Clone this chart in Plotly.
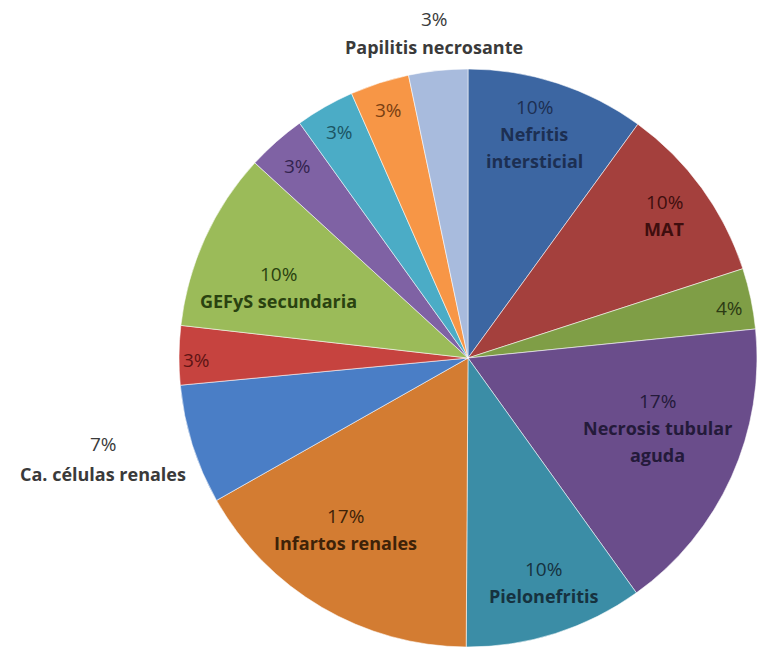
import math
import plotly.graph_objects as go

# ---- data ----
categories = ["Nefritis intersticial", "MAT", "Otra", "Necrosis tubular aguda", "Pielonefritis",
              "Infartos renales", "Ca. células renales", "Otra 2", "GEFyS secundaria",
              "Otra 3", "Otra 4", "Otra 5", "Papilitis necrosante"]
values = [10.0, 10.0, 3.4, 16.7, 10.0, 16.7, 6.7, 3.3, 10.0, 3.3, 3.3, 3.3, 3.3]
pct_labels = ["10%", "10%", "4%", "17%", "10%", "17%", "7%", "3%", "10%", "3%", "3%", "3%", "3%"]
name_lines = [["Nefritis", "intersticial"], ["MAT"], [], ["Necrosis tubular", "aguda"],
              ["Pielonefritis"], ["Infartos renales"], ["Ca. células renales"], [],
              ["GEFyS secundaria"], [], [], [], ["Papilitis necrosante"]]

# ---- style ----
colors = ["#3C66A2", "#A4403D", "#7F9E46", "#6A4D8B", "#3B8DA6", "#D37C32", "#4A7EC6",
          "#C6433F", "#9BBB59", "#7F62A4", "#4BACC6", "#F79646", "#A8BBDD"]
text_colors = ["#1C2F52", "#3E0E0E", "#2C3A14", "#241A3A", "#16323F", "#3E2208", "#3A3A3A",
               "#5E1414", "#2A4210", "#33244F", "#1B5563", "#7A3F12", "#3A3A3A"]
radial_frac = [0.81, 0.84, 0.92, 0.70, 0.82, 0.73, 1.31, 0.94, 0.70, 0.89, 0.90, 0.90, 1.13]
angle_shift = [-1.5, 0, 1, -4, -1, 5, 2, -1, -4, 0, 0, 0, 0]  # degrees
line_gap = [27, 27, 27, 27, 27, 27, 30, 27, 27, 27, 27, 27, 28]

W, H = 757, 652
cx, cy, R = 468, 358, 289  # pixel centre (from top) and radius
font_family = "'Open Sans', sans-serif"

fig = go.Figure(go.Pie(
    labels=categories, values=values, sort=False, direction="clockwise", rotation=0,
    marker=dict(colors=colors, line=dict(color="rgba(255,255,255,0.55)", width=1)),
    textinfo="none", hoverinfo="label+percent", showlegend=False,
    domain=dict(x=[(cx - R) / W, (cx + R) / W], y=[(H - cy - R) / H, (H - cy + R) / H]),
))

total = sum(values)
cum = 0.0
annotations = []
for i, v in enumerate(values):
    mid = (cum + v / 2) / total * 2 * math.pi + math.radians(angle_shift[i])
    cum += v
    rr = R * radial_frac[i]
    px = cx + rr * math.sin(mid)
    py = cy - rr * math.cos(mid)
    lines = [(pct_labels[i], False)] + [(t, True) for t in name_lines[i]]
    n = len(lines)
    for j, (t, bold) in enumerate(lines):
        annotations.append(dict(
            x=px / W, y=1 - py / H, xref="paper", yref="paper", showarrow=False,
            text=f"<b>{t}</b>" if bold else t,
            yshift=-(j - (n - 1) / 2) * line_gap[i],
            font=dict(family=font_family, size=18 if bold else 19, color=text_colors[i]),
            xanchor="center", yanchor="middle",
        ))

fig.update_layout(
    width=W, height=H, margin=dict(l=0, r=0, t=0, b=0),
    paper_bgcolor="white", plot_bgcolor="white",
    annotations=annotations,
)
fig.write_html("out.html")
